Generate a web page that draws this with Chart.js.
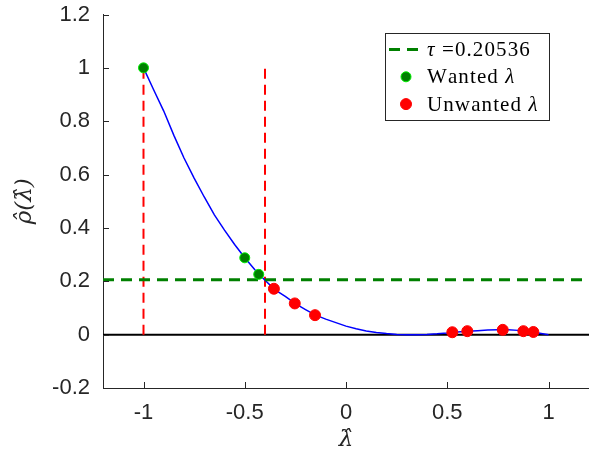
<!DOCTYPE html>
<html>
<head>
<meta charset="utf-8">
<script src="https://cdn.jsdelivr.net/npm/chart.js@4.4.1/dist/chart.umd.min.js"></script>
<style>
  html, body { margin: 0; padding: 0; background: #fff; }
</style>
</head>
<body>
<canvas id="c" width="589" height="454"></canvas>
<script>
// ejes
const xRange = [-1.2, 1.2];
const yRange = [-0.2, 1.2];
const xTicks = [-1, -0.5, 0, 0.5, 1];
const yTicks = [-0.2, 0, 0.2, 0.4, 0.6, 0.8, 1, 1.2];

// umbral y limites del intervalo deseado
const tau = 0.20536;
const boundX = [-1, -0.4];
const boundTop = 1;

// filtro
const curveX = [-1, -0.95, -0.9, -0.85, -0.8, -0.75, -0.7, -0.65, -0.6, -0.55, -0.5,
  -0.45, -0.4, -0.35, -0.3, -0.25, -0.2, -0.15, -0.1, -0.05, 0,
  0.05, 0.1, 0.15, 0.2, 0.25, 0.3, 0.35, 0.4, 0.45, 0.5,
  0.55, 0.6, 0.65, 0.7, 0.75, 0.8, 0.85, 0.9, 0.95, 1];
const curveY = [1.000, 0.918, 0.838, 0.747, 0.662, 0.587, 0.516, 0.449, 0.392, 0.338, 0.288,
  0.243, 0.204, 0.168, 0.143, 0.116, 0.094, 0.073, 0.058, 0.045, 0.032,
  0.022, 0.014, 0.008, 0.004, 0.001, 0.000, 0.000, 0.001, 0.003, 0.006,
  0.010, 0.013, 0.015, 0.017, 0.018, 0.018, 0.016, 0.012, 0.006, 0.000];

// autovalores
const wantedX = [-1, -0.5, -0.431];
const wantedY = [1.0, 0.288, 0.226];
const unwantedX = [-0.356, -0.253, -0.153, 0.525, 0.599, 0.774, 0.876, 0.925];
const unwantedY = [0.172, 0.117, 0.073, 0.009, 0.013, 0.018, 0.013, 0.010];

const tickFont = { family: '"Liberation Sans", Arial, sans-serif', size: 22 };
const textColor = '#262626';

function pts(xs, ys) {
  return xs.map((x, i) => ({ x: x, y: ys[i] }));
}

// ticks hacia dentro, como en MATLAB
const innerTicks = {
  id: 'innerTicks',
  afterDatasetsDraw(chart) {
    const { ctx, chartArea: a, scales: { x, y } } = chart;
    ctx.save();
    ctx.strokeStyle = textColor;
    ctx.lineWidth = 1;
    ctx.beginPath();
    xTicks.forEach(v => {
      const px = Math.round(x.getPixelForValue(v)) + 0.5;
      ctx.moveTo(px, a.bottom);
      ctx.lineTo(px, a.bottom - 6);
    });
    yTicks.forEach(v => {
      const py = Math.round(y.getPixelForValue(v)) + 0.5;
      ctx.moveTo(a.left, py);
      ctx.lineTo(a.left + 6, py);
    });
    ctx.stroke();
    ctx.restore();
  }
};

// leyenda dentro del area, con letras griegas en cursiva
function drawMixed(ctx, text, x, y) {
  let cx = x;
  for (const ch of text) {
    const greek = /[\u0370-\u03ff]/.test(ch);
    ctx.font = (greek ? 'italic ' : '') + '21px "Liberation Serif", "Times New Roman", serif';
    ctx.fillText(ch, cx, y);
    cx += ctx.measureText(ch).width + 1.1;
  }
}

const boxLegend = {
  id: 'boxLegend',
  afterDraw(chart) {
    const ctx = chart.ctx;
    const items = chart.data.datasets.filter(d => d.inLegend);
    const bx = 385.5, by = 33.5, bw = 164, bh = 87;
    ctx.save();
    ctx.fillStyle = '#fff';
    ctx.fillRect(bx, by, bw, bh);
    ctx.strokeStyle = '#262626';
    ctx.lineWidth = 1;
    ctx.strokeRect(bx, by, bw, bh);
    items.forEach((d, i) => {
      const ry = 49.5 + i * 27.3;
      if (d.showLine) {
        ctx.strokeStyle = d.borderColor;
        ctx.lineWidth = d.borderWidth;
        ctx.setLineDash(d.borderDash || []);
        ctx.beginPath();
        ctx.moveTo(389, ry);
        ctx.lineTo(418, ry);
        ctx.stroke();
        ctx.setLineDash([]);
      } else {
        ctx.fillStyle = d.backgroundColor;
        ctx.strokeStyle = d.borderColor;
        ctx.lineWidth = d.borderWidth;
        ctx.beginPath();
        ctx.arc(406, ry, d.pointRadius, 0, Math.PI * 2);
        ctx.fill();
        ctx.stroke();
      }
      ctx.fillStyle = '#000';
      ctx.textBaseline = 'middle';
      drawMixed(ctx, d.label, 427, ry + 1);
    });
    ctx.restore();
  }
};

new Chart(document.getElementById('c'), {
  type: 'scatter',
  data: {
    datasets: [
      {
        label: '\u03c4 =' + tau,
        inLegend: true,
        data: pts(xRange, [tau, tau]),
        showLine: true,
        borderColor: '#008000',
        borderWidth: 3,
        borderDash: [11, 7],
        pointRadius: 0,
        order: 1
      },
      {
        label: 'Wanted \u03bb',
        inLegend: true,
        data: pts(wantedX, wantedY),
        backgroundColor: '#008000',
        borderColor: '#00ee00',
        borderWidth: 1,
        pointRadius: 5,
        order: 0
      },
      {
        label: 'Unwanted \u03bb',
        inLegend: true,
        data: pts(unwantedX, unwantedY),
        backgroundColor: '#ff0000',
        borderColor: '#ff0000',
        borderWidth: 1,
        pointRadius: 5.5,
        order: 0
      },
      {
        label: 'filtro',
        data: pts(curveX, curveY),
        showLine: true,
        borderColor: '#0000ff',
        borderWidth: 1.5,
        pointRadius: 0,
        order: 2
      },
      {
        label: 'limite 1',
        data: pts([boundX[0], boundX[0]], [0, boundTop]),
        showLine: true,
        borderColor: '#ff0000',
        borderWidth: 2,
        borderDash: [10, 6],
        pointRadius: 0,
        order: 3
      },
      {
        label: 'limite 2',
        data: pts([boundX[1], boundX[1]], [0, boundTop]),
        showLine: true,
        borderColor: '#ff0000',
        borderWidth: 2,
        borderDash: [10, 6],
        pointRadius: 0,
        order: 3
      },
      {
        label: 'cero',
        data: pts(xRange, [0, 0]),
        showLine: true,
        borderColor: '#000000',
        borderWidth: 2,
        pointRadius: 0,
        order: 4
      }
    ]
  },
  options: {
    responsive: false,
    devicePixelRatio: 1,
    animation: false,
    layout: { autoPadding: false, padding: { top: 14.5, right: 0, left: 0, bottom: 0 } },
    plugins: {
      legend: { display: false },
      tooltip: { enabled: false }
    },
    scales: {
      x: {
        type: 'linear',
        min: xRange[0],
        max: xRange[1],
        afterBuildTicks: s => { s.ticks = xTicks.map(v => ({ value: v })); },
        afterFit: s => { s.height = 66; s.paddingLeft = 0; s.paddingRight = 0; },
        grid: { drawOnChartArea: false, drawTicks: false },
        border: { display: true, color: textColor, width: 1 },
        ticks: { font: tickFont, color: textColor, padding: 12, maxRotation: 0, callback: v => String(v) },
        title: {
          display: true,
          text: '\u03bb\u0302',
          font: { family: '"DejaVu Serif", serif', size: 23, style: 'italic' },
          color: textColor,
          padding: { top: 0, bottom: 0 }
        }
      },
      y: {
        type: 'linear',
        min: yRange[0],
        max: yRange[1],
        afterBuildTicks: s => { s.ticks = yTicks.map(v => ({ value: v })); },
        afterFit: s => { s.width = 103; s.paddingTop = 0; s.paddingBottom = 0; },
        grid: { drawOnChartArea: false, drawTicks: false },
        border: { display: true, color: textColor, width: 1 },
        ticks: { font: tickFont, color: textColor, padding: 13, callback: v => String(v) },
        title: {
          display: true,
          text: '\u03c1\u0302(\u03bb\u0302)',
          font: { family: '"DejaVu Serif", serif', size: 23, style: 'italic' },
          color: textColor,
          padding: { top: 11, bottom: 0 }
        }
      }
    }
  },
  plugins: [innerTicks, boxLegend]
});
</script>
</body>
</html>
